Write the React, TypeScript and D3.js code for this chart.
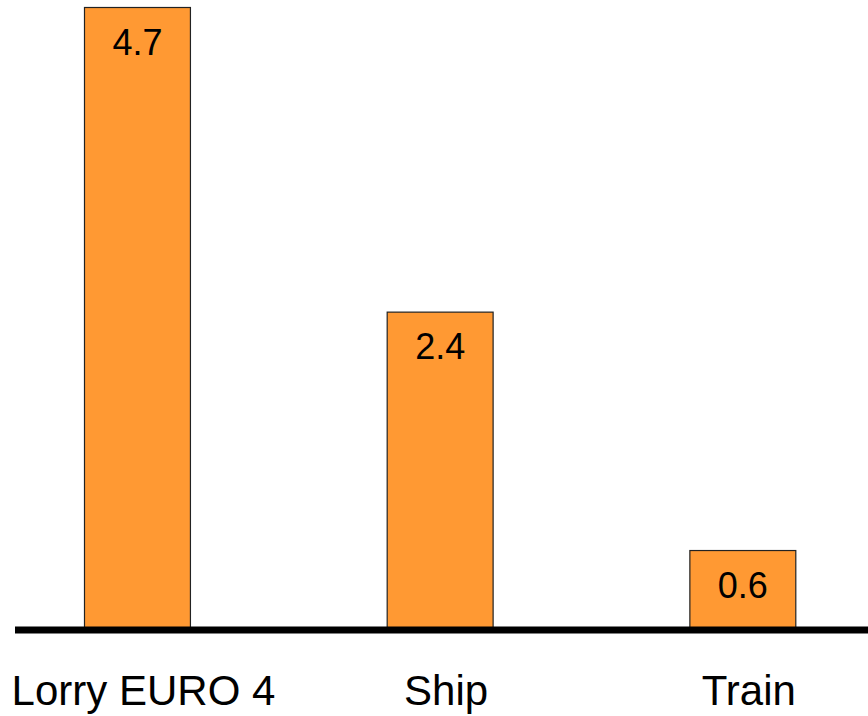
import React from "react";
import * as d3 from "d3";

const categories = ["Lorry EURO 4", "Ship", "Train"];
const values = [4.7, 2.4, 0.6];
const valueLabels = ["4.7", "2.4", "0.6"];

const W = 868;
const H = 716;
const baseY = 630;

export default function App() {
  const x = d3
    .scaleBand<string>()
    .domain(categories)
    .range([5.8, 874.5])
    .paddingInner(0.65)
    .paddingOuter(0.26);
  const y = d3.scaleLinear().domain([0, 4.7]).range([baseY, 7.5]);

  return (
    <svg
      width={W}
      height={H}
      style={{ position: "absolute", left: 0, top: 0, background: "#fff" }}
      fontFamily="'Liberation Sans', Arial, sans-serif"
    >
      {categories.map((c, i) => (
        <g key={c}>
          <rect
            x={x(c)}
            y={y(values[i])}
            width={x.bandwidth()}
            height={baseY - y(values[i])}
            fill="#FF9933"
            stroke="#222"
            strokeWidth={1.2}
          />
          <text
            x={(x(c) as number) + x.bandwidth() / 2}
            y={y(values[i]) + 47}
            textAnchor="middle"
            fontSize={36}
            fill="#000"
          >
            {valueLabels[i]}
          </text>
          <text
            x={(x(c) as number) + x.bandwidth() / 2 + 6}
            y={705}
            textAnchor="middle"
            fontSize={42}
            fill="#000"
          >
            {c}
          </text>
        </g>
      ))}
      <line x1={15} x2={868} y1={baseY} y2={baseY} stroke="#000" strokeWidth={7} />
    </svg>
  );
}
